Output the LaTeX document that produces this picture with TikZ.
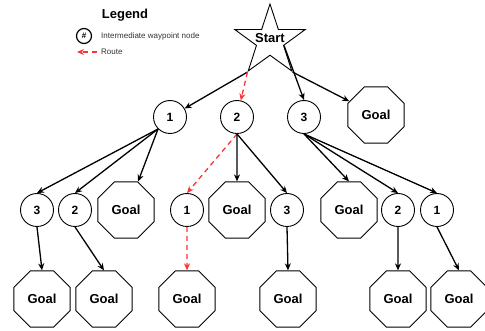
\documentclass[tikz,border=0pt]{standalone}
\usepackage{fontspec}
\setmainfont{Liberation Sans}
\usetikzlibrary{arrows.meta,shapes.geometric}
\definecolor{routered}{HTML}{FF3333}
\definecolor{legendgray}{HTML}{333333}

\begin{document}
\begin{tikzpicture}[x=1pt, y=-1pt,
    waypoint/.style={circle, draw, line width=0.9pt, minimum size=33pt, inner sep=0pt, font=\fontsize{12}{14}\selectfont\bfseries},
    goal/.style={regular polygon, regular polygon sides=8, draw, line width=0.9pt, minimum size=61pt, inner sep=0pt, font=\fontsize{13}{15}\selectfont\bfseries},
    startstar/.style={star, star points=5, star point ratio=2.6, draw, line width=0.9pt, minimum size=74pt, inner sep=0pt},
    link/.style={-{Stealth[length=7pt,width=6pt]}, line width=1.3pt},
    route/.style={link, routered, dash pattern=on 5pt off 4pt}
]
\useasboundingbox (0,0) rectangle (485,331);

% Legend
\node[font=\fontsize{13}{15}\selectfont\bfseries] (legend) at (125,15) {Legend};
\node[circle, draw, line width=1.2pt, minimum size=15pt, inner sep=0pt, font=\fontsize{8}{9}\selectfont\bfseries] (key) at (84,36) {\#};
\node[anchor=west, inner sep=1pt, text=legendgray, font=\fontsize{8}{9}\selectfont] (keytxt) at (100,36) {Intermediate waypoint node};
\node[anchor=west, inner sep=1pt, text=legendgray, font=\fontsize{8}{9}\selectfont] (routetxt) at (100,52) {Route};
\coordinate (routetip) at (77,52);
\draw[route] ([xshift=-3pt]routetxt.west) -- (routetip);

% Start
\node[startstar] (start) at (270,41) {};
\node[font=\fontsize{13}{15}\selectfont\bfseries] (starttxt) at (270,38) {Start};

% First waypoints
\node[waypoint] (n1) at (170,117) {1};
\node[waypoint] (n2) at (237,117) {2};
\node[waypoint] (n3) at (304,117) {3};
\node[goal] (g0) at (376,115) {Goal};

% Second waypoints
\node[waypoint] (a3) at (37,210) {3};
\node[waypoint] (a2) at (75,210) {2};
\node[goal] (ag) at (126,210) {Goal};
\node[waypoint] (b1) at (187,210) {1};
\node[goal] (bg) at (237,210) {Goal};
\node[waypoint] (b3) at (287,210) {3};
\node[goal] (cg) at (349,210) {Goal};
\node[waypoint] (c2) at (398,210) {2};
\node[waypoint] (c1) at (437,210) {1};

% Final goals
\node[goal] (a3g) at (42,299) {Goal};
\node[goal] (a2g) at (104,299) {Goal};
\node[goal] (b1g) at (187,299) {Goal};
\node[goal] (b3g) at (288,299) {Goal};
\node[goal] (c2g) at (398,299) {Goal};
\node[goal] (c1g) at (459,299) {Goal};

% Connections from Start
\draw[link] (start.outer point 3) -- (n1);
\draw[route] (start.outer point 3) -- (n2);
\draw[link] (start.inner point 4) -- (n3.north);
\draw[link] (start.outer point 4) -- (g0);

% Connections to second waypoints
\draw[link] (n1.south west) -- (a3.north);
\draw[link] (n1.south west) -- (a2.north);
\draw[link] (n1.south west) -- (ag.67.5);
\draw[route] (n2.south) -- (b1.north);
\draw[link] (n2.south) -- (bg.north);
\draw[link] (n2.south) -- (b3.north);
\draw[link] (n3.south) -- (cg.north);
\draw[link] (n3.south) -- (c2.north);
\draw[link] (n3.south) -- (c1.north);

% Connections to final goals
\draw[link] (a3.south) -- (a3g.north);
\draw[link] (a2.south) -- (a2g.north);
\draw[route] (b1.south) -- (b1g.north);
\draw[link] (b3.south) -- (b3g.north);
\draw[link] (c2.south) -- (c2g.north);
\draw[link] (c1.south) -- (c1g.north);
\end{tikzpicture}
\end{document}
